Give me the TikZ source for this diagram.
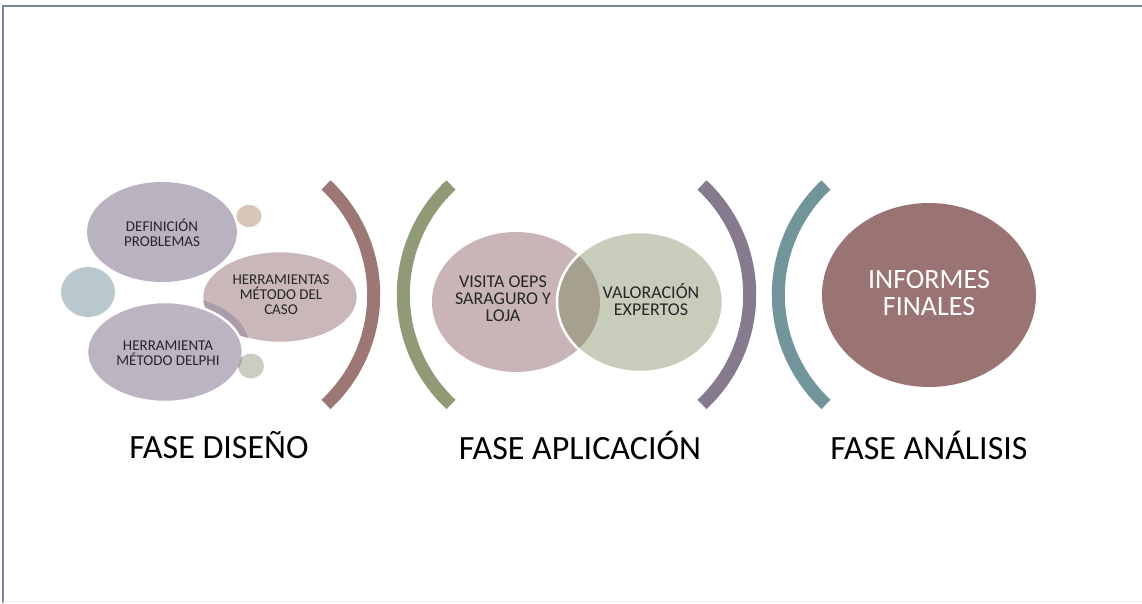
\documentclass[tikz,border=0pt]{standalone}
\usepackage{fontspec}
\setmainfont{Carlito}
\usetikzlibrary{calc}
\definecolor{framec}{HTML}{7B8798}
\definecolor{defc}{HTML}{B9B2C0}
\definecolor{tanc}{HTML}{D9C6B9}
\definecolor{herc}{HTML}{C9B7B9}
\definecolor{tealc}{HTML}{B8C8CC}
\definecolor{delc}{HTML}{BCB4C3}
\definecolor{shadc}{HTML}{AA9CA8}
\definecolor{grnc}{HTML}{CACDBF}
\definecolor{grnov}{HTML}{A9A9A3}
\definecolor{visc}{HTML}{C9B5B7}
\definecolor{valc}{HTML}{C8CCBB}
\definecolor{ovc}{HTML}{A6A08F}
\definecolor{infc}{HTML}{9A7472}
\definecolor{br1}{HTML}{9C7774}
\definecolor{br2}{HTML}{8E9B76}
\definecolor{br3}{HTML}{857A8E}
\definecolor{br4}{HTML}{72959C}
\definecolor{txtc}{HTML}{262626}
\begin{document}
\begin{tikzpicture}[x=1pt,y=-1pt,
  bracket/.style={line width=13pt},
  wline/.style={draw=white,line width=2.5pt},
  small/.style={align=center,text=txtc,font=\fontsize{15}{15}\selectfont},
  mid/.style={align=center,text=txtc,font=\fontsize{18}{17}\selectfont},
  phase/.style={text=black,font=\fontsize{34}{36}\selectfont}]
\useasboundingbox (0,0) rectangle (1142,603);
\fill[white] (0,0) rectangle (1142,603);
% frame
\draw[framec,line width=2pt] (3,603) -- (3,6) -- (1142,6);
\draw[black!6,line width=1pt] (3,601.5) -- (1142,601.5);
% ---- FASE DISENO ----
\fill[defc] (162,232) ellipse[x radius=75pt,y radius=50pt];
\fill[tanc,wline] (249,216) ellipse[x radius=14pt,y radius=12.5pt];
\fill[herc,wline] (280,297) ellipse[x radius=78pt,y radius=46pt];
\fill[tealc] (88,292) ellipse[x radius=27pt,y radius=25pt];
\begin{scope}
  \clip (280,297) ellipse[x radius=77pt,y radius=45pt];
  \fill[shadc] (171,346) ellipse[x radius=78pt,y radius=50pt];
\end{scope}
\fill[delc,wline] (165,352) ellipse[x radius=78pt,y radius=50pt];
\fill[grnc] (251,366) ellipse[x radius=13pt,y radius=12.5pt];
\begin{scope}
  \clip (165,352) ellipse[x radius=78pt,y radius=50pt];
  \fill[grnov] (251,366) ellipse[x radius=13pt,y radius=12.5pt];
\end{scope}
\node[small] (def) at (162,233) {DEFINICIÓN\\PROBLEMAS};
\node[small] (her) at (281,295) {HERRAMIENTAS\\MÉTODO DEL\\CASO};
\node[small] (del) at (168,353) {HERRAMIENTA\\MÉTODO DELPHI};
% ---- FASE APLICACION ----
\fill[visc] (516,302) ellipse[x radius=84pt,y radius=70pt];
\fill[valc] (640,302) ellipse[x radius=83pt,y radius=70pt];
\begin{scope}
  \clip (516,302) ellipse[x radius=84pt,y radius=70pt];
  \fill[ovc] (640,302) ellipse[x radius=83pt,y radius=70pt];
\end{scope}
\draw[wline] (640,302) ellipse[x radius=83pt,y radius=70pt];
\node[mid] (vis) at (503,299) {VISITA OEPS\\SARAGURO Y\\LOJA};
\node[mid] (val) at (651,300) {VALORACIÓN\\EXPERTOS};
% ---- FASE ANALISIS ----
\fill[infc] (929,295) ellipse[x radius=107pt,y radius=92pt];
\node[align=center,text=white,font=\fontsize{28}{27}\selectfont] (inf) at (929,293) {INFORMES\\FINALES};
% ---- brackets ----
\draw[bracket,br1] (326,185) arc[start angle=47,end angle=-47,radius=150pt];
\draw[bracket,br2] (451,185) arc[start angle=133,end angle=227,radius=150pt];
\draw[bracket,br3] (702,185) arc[start angle=47,end angle=-47,radius=150pt];
\draw[bracket,br4] (826,185) arc[start angle=133,end angle=227,radius=150pt];
% ---- labels ----
\node[phase] (l1) at (219,445) {FASE DISEÑO};
\node[phase] (l2) at (580,445) {FASE APLICACIÓN};
\node[phase] (l3) at (929,445) {FASE ANÁLISIS};
\end{tikzpicture}
\end{document}
